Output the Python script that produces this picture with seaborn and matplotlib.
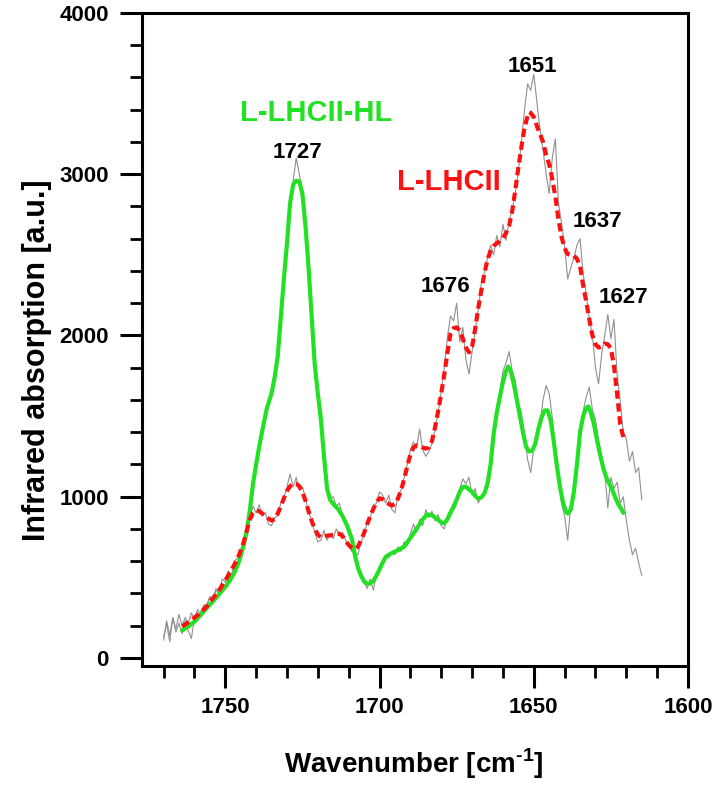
import numpy as np
import pandas as pd
import seaborn as sns
import matplotlib.pyplot as plt
from matplotlib.ticker import MultipleLocator

# =========================
# DATA
# =========================
# smoothed L-LHCII-HL (green, solid)
hl_x = [1764, 1762, 1760, 1758, 1756, 1754, 1752, 1750, 1748.5, 1747, 1745.5, 1744, 1743,
        1742, 1741, 1740, 1739, 1738, 1736.5, 1735, 1734, 1733, 1732, 1731, 1730, 1729,
        1728, 1727, 1726, 1725, 1724, 1723, 1722, 1721, 1720, 1719, 1718, 1717, 1716,
        1715, 1713.5, 1712, 1710.5, 1709, 1708, 1707, 1706, 1705, 1704, 1703, 1702, 1701,
        1700, 1699, 1698, 1697, 1695.5, 1694, 1692, 1690, 1688, 1686, 1684.5, 1683, 1681.5,
        1680, 1679, 1678, 1677, 1676, 1675, 1674, 1673, 1672, 1671, 1670, 1669, 1668, 1667,
        1666, 1665, 1664, 1663, 1662, 1661, 1660, 1659, 1658.3, 1657.5, 1656.5, 1655.5,
        1654.5, 1653.5, 1652.5, 1651.5, 1650.5, 1649.5, 1648.5, 1647.5, 1646.5, 1645.5,
        1644.5, 1643.5, 1642.5, 1641.5, 1640.5, 1639.5, 1639, 1638, 1637, 1636, 1635, 1634,
        1633, 1632.3, 1631.5, 1630.5, 1629.5, 1628.5, 1627.5, 1626.5, 1625.5, 1624.5,
        1623.5, 1622.5, 1621.5, 1621]
hl_y = [170, 195, 225, 265, 310, 350, 395, 440, 480, 530, 600, 700, 790,
        920, 1080, 1200, 1310, 1410, 1550, 1640, 1740, 1870, 2110, 2350, 2570, 2820,
        2935, 2960, 2955, 2880, 2680, 2420, 2120, 1820, 1640, 1480, 1250, 1050, 980,
        955, 925, 880, 820, 740, 640, 560, 510, 475, 460, 462, 478, 510,
        550, 590, 625, 640, 655, 668, 690, 745, 800, 860, 890, 885, 865,
        840, 835, 860, 900, 935, 980, 1030, 1060, 1062, 1045, 1030, 1005, 988, 995,
        1020, 1080, 1200, 1390, 1520, 1620, 1710, 1780, 1807, 1780, 1700, 1600,
        1500, 1400, 1310, 1280, 1285, 1330, 1420, 1490, 1535, 1535,
        1470, 1340, 1190, 1060, 960, 905, 895, 920, 1030, 1200, 1400, 1500,
        1550, 1560, 1520, 1450, 1350, 1260, 1180, 1120, 1080, 1040,
        990, 950, 920, 900]

# smoothed L-LHCII (red, dashed)
lh_x = [1764, 1762, 1760, 1758, 1756, 1754, 1752, 1750, 1748.5, 1747, 1745.5, 1744, 1743,
        1742, 1741, 1740, 1739, 1738, 1737, 1736, 1735, 1734, 1733, 1732, 1731, 1730, 1729,
        1728, 1727, 1726, 1725, 1724, 1723, 1722, 1721, 1720, 1719, 1718, 1717, 1716, 1715,
        1714, 1713, 1712, 1711, 1710, 1709, 1708, 1707, 1706, 1705, 1704, 1703, 1702, 1701,
        1700, 1699, 1698, 1697, 1696, 1695, 1694, 1693, 1692, 1691, 1690, 1689, 1688, 1687,
        1686, 1685, 1684, 1683, 1682, 1681, 1680, 1679, 1678, 1677, 1676, 1675, 1674, 1673,
        1672, 1671, 1670, 1669, 1668, 1667, 1666, 1665, 1664, 1663, 1662, 1661, 1660, 1659,
        1658, 1657, 1656, 1655, 1654, 1653, 1652, 1651.5, 1651, 1650, 1649, 1648, 1647,
        1646, 1645, 1644, 1643, 1642, 1641, 1640, 1639, 1638, 1637, 1636, 1635, 1634, 1633,
        1632, 1631, 1630, 1629, 1628, 1627, 1626, 1625, 1624, 1623, 1622, 1621]
lh_y = [195, 220, 250, 280, 320, 370, 420, 480, 530, 580, 640, 720, 790,
        860, 900, 915, 910, 895, 880, 865, 852, 860, 895, 940, 990, 1035, 1065,
        1081, 1080, 1065, 1030, 975, 910, 850, 800, 765, 748, 750, 758, 760, 765,
        770, 770, 755, 728, 700, 683, 675, 690, 730, 775, 830, 880, 925, 965,
        990, 985, 968, 955, 945, 955, 990, 1040, 1110, 1190, 1260, 1305, 1318, 1315,
        1305, 1298, 1305, 1345, 1430, 1530, 1640, 1760, 1890, 2010, 2045, 2050, 2030, 1980,
        1925, 1895, 1930, 2040, 2170, 2280, 2385, 2470, 2525, 2555, 2572, 2585, 2605, 2635,
        2680, 2770, 2900, 3040, 3170, 3290, 3360, 3385, 3380, 3355, 3300, 3250, 3200,
        3120, 3060, 2970, 2860, 2720, 2610, 2540, 2505, 2498, 2495, 2475, 2430, 2310, 2210,
        2100, 2000, 1945, 1925, 1930, 1950, 1945, 1920, 1810, 1640, 1450, 1370]

# raw spectra (thin grey), 1770 -> 1615 cm-1, step 1
raw_x = list(range(1770, 1614, -1))
raw_hl = [110, 230, 140, 250, 160, 215, 150, 230, 170, 120, 245, 230, 290, 300, 330, 380,
          350, 420, 400, 460, 440, 500, 490, 545, 560, 640, 720, 800, 930, 1070, 1210, 1300,
          1420, 1500, 1590, 1640, 1760, 1880, 2120, 2340, 2590, 2830, 2960, 3100, 3000, 2900,
          2660, 2430, 2110, 1800, 1620, 1490, 1240, 1080, 990, 1000, 940, 960, 880, 850, 800,
          760, 630, 560, 520, 470, 430, 490, 420, 520, 560, 600, 640, 620, 660, 640, 690, 660,
          720, 700, 770, 830, 780, 860, 820, 920, 870, 910, 850, 890, 820, 800, 880, 920, 960,
          1000, 1050, 1110, 1080, 1120, 1010, 1050, 960, 1000, 1010, 1090, 1180, 1400, 1530,
          1650, 1780, 1830, 1900, 1780, 1720, 1580, 1520, 1380, 1230, 1150, 1300, 1380, 1450,
          1600, 1690, 1640, 1490, 1300, 1150, 960, 880, 730, 950, 1050, 1230, 1390, 1530, 1620,
          1680, 1540, 1480, 1350, 1250, 1150, 930, 1120, 1050, 1090, 960, 1000, 850, 730, 640,
          680, 590, 510]
raw_lh = [130, 210, 100, 250, 180, 270, 200, 250, 210, 280, 240, 300, 270, 330, 310, 380,
          360, 430, 410, 490, 470, 540, 510, 600, 620, 670, 730, 800, 880, 940, 900, 950,
          880, 900, 830, 820, 870, 880, 960, 990, 1060, 1140, 1060, 1120, 1040, 1060, 990,
          900, 860, 780, 720, 730, 790, 730, 770, 740, 800, 760, 780, 730, 700, 660, 650, 640,
          720, 760, 840, 870, 940, 960, 1030, 1010, 960, 1010, 920, 900, 1010, 1040, 1120,
          1200, 1290, 1340, 1300, 1420, 1290, 1250, 1280, 1330, 1420, 1520, 1650, 1800, 1990,
          2120, 2090, 2200, 1960, 2050, 1850, 1760, 1900, 2030, 2160, 2320, 2390, 2480, 2560,
          2500, 2620, 2550, 2690, 2590, 2710, 2780, 2880, 3020, 3200, 3400, 3560, 3520, 3620,
          3450, 3280, 3150, 3000, 2880, 3100, 3220, 2820, 2700, 2550, 2350, 2420, 2480, 2560,
          2600, 2380, 2260, 2100, 2000, 1800, 1700, 1880, 2000, 2130, 1980, 2100, 1760, 1600,
          1400, 1360, 1220, 1280, 1150, 1180, 980]

peak_labels = ["1727", "1676", "1651", "1637", "1627"]
peak_pos = [(1726.7, 3132), (1678.7, 2301), (1650.5, 3665), (1629.5, 2704), (1621.0, 2233)]

GREEN = "#22e022"
RED = "#ff1010"

# =========================
# PLOT
# =========================
sns.set_style("ticks")
plt.rcParams["font.family"] = ["Liberation Sans", "DejaVu Sans"]
plt.rcParams["font.weight"] = "bold"
plt.rcParams["mathtext.fontset"] = "custom"
plt.rcParams["mathtext.rm"] = "Liberation Sans:bold"
plt.rcParams["mathtext.bf"] = "Liberation Sans:bold"
for key in ["text.color", "axes.labelcolor", "xtick.color", "ytick.color"]:
    plt.rcParams[key] = "black"

fig = plt.figure(figsize=(7.17, 7.86), dpi=100)
ax = fig.add_axes([0.198, 0.1527, 0.7616, 0.8308])

raw = pd.DataFrame({"x": raw_x, "hl": raw_hl, "lh": raw_lh})
sns.lineplot(data=raw, x="x", y="hl", ax=ax, color="#909090", lw=0.8, estimator=None)
sns.lineplot(data=raw, x="x", y="lh", ax=ax, color="#909090", lw=0.8, estimator=None)

sns.lineplot(x=hl_x, y=hl_y, ax=ax, color=GREEN, lw=3.0, estimator=None)
sns.lineplot(x=lh_x, y=lh_y, ax=ax, color=RED, lw=3.0, estimator=None,
             linestyle=(0, (2.0, 1.1)))

ax.text(1720.5, 3380, "L-LHCII-HL", color=GREEN, fontsize=21, fontweight="bold",
        ha="center", va="center")
ax.text(1677.4, 2952, "L-LHCII", color=RED, fontsize=21, fontweight="bold",
        ha="center", va="center")
for lab, (px, py) in zip(peak_labels, peak_pos):
    ax.text(px, py, lab, color="black", fontsize=16, fontweight="bold",
            ha="center", va="center")

ax.set_xlim(1777, 1600)
ax.set_ylim(-50, 4000)
ax.set_xticks([1750, 1700, 1650, 1600])
ax.set_yticks([0, 1000, 2000, 3000, 4000])
ax.xaxis.set_minor_locator(MultipleLocator(10))
ax.yaxis.set_minor_locator(MultipleLocator(200))

ax.tick_params(which="major", direction="out", length=16, width=2.2,
               labelsize=16, pad=6)
ax.tick_params(which="minor", direction="out", length=8.5, width=2.0)
ax.tick_params(axis="y", which="major", pad=8)
for lab in ax.get_xticklabels() + ax.get_yticklabels():
    lab.set_fontweight("bold")

for side in ["top", "right", "bottom", "left"]:
    ax.spines[side].set_visible(True)
    ax.spines[side].set_linewidth(2.2)
    ax.spines[side].set_color("black")

ax.set_xlabel("Wavenumber [cm$^{\\text{-1}}$]", fontsize=20, fontweight="bold")
ax.set_ylabel("Infrared absorption [a.u.]", fontsize=22, fontweight="bold")
ax.xaxis.set_label_coords(0.497, -0.124)
ax.yaxis.set_label_coords(-0.165, 0.469)

fig.savefig("out.png", dpi=100)
